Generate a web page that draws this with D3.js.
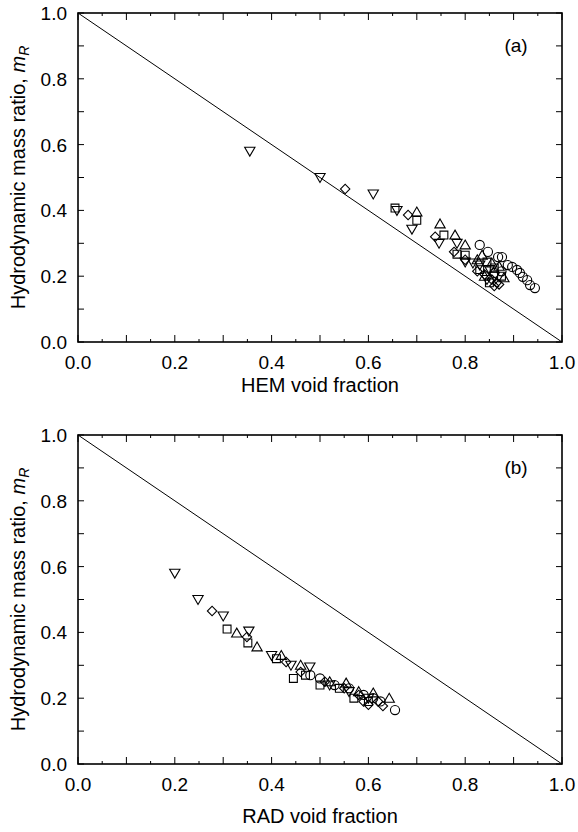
<!DOCTYPE html>
<html>
<head>
<meta charset="utf-8">
<script src="https://cdn.jsdelivr.net/npm/d3@7"></script>
<style>
  body { margin: 0; background: #fff; }
  text { font-family: "Liberation Sans", Arial, sans-serif; }
</style>
</head>
<body>
<svg id="chart" width="578" height="832"></svg>
<script>
// panel (a): HEM void fraction vs mR
var hemDown = [[0.355,0.58],[0.50,0.50],[0.61,0.45],[0.659,0.40],[0.69,0.343],[0.746,0.30],[0.783,0.30],[0.80,0.243],[0.816,0.24],[0.83,0.234],[0.85,0.22],[0.86,0.20],[0.845,0.19]];
var hemDiamond = [[0.552,0.465],[0.682,0.386],[0.738,0.32],[0.777,0.274],[0.80,0.25],[0.825,0.215],[0.84,0.205],[0.855,0.19],[0.865,0.18],[0.87,0.175],[0.86,0.17]];
var hemSquare = [[0.655,0.407],[0.70,0.37],[0.756,0.325],[0.783,0.267],[0.80,0.264],[0.845,0.243],[0.83,0.22],[0.86,0.225],[0.875,0.2],[0.85,0.18]];
var hemUp = [[0.70,0.395],[0.748,0.359],[0.779,0.325],[0.80,0.295],[0.835,0.264],[0.825,0.25],[0.855,0.24],[0.87,0.23],[0.84,0.2],[0.88,0.195]];
var hemCircle = [[0.83,0.295],[0.847,0.274],[0.868,0.258],[0.876,0.258],[0.888,0.234],[0.897,0.228],[0.907,0.219],[0.913,0.21],[0.919,0.198],[0.928,0.188],[0.934,0.173],[0.944,0.164],[0.86,0.21],[0.875,0.215]];

// panel (b): RAD void fraction vs mR
var radDown = [[0.20,0.58],[0.248,0.50],[0.30,0.45],[0.353,0.404],[0.40,0.33],[0.479,0.295],[0.44,0.30],[0.52,0.24],[0.56,0.22],[0.60,0.20]];
var radDiamond = [[0.277,0.465],[0.349,0.386],[0.43,0.31],[0.46,0.28],[0.51,0.25],[0.55,0.23],[0.58,0.21],[0.59,0.19],[0.60,0.18],[0.63,0.176],[0.62,0.19]];
var radSquare = [[0.308,0.41],[0.351,0.368],[0.41,0.32],[0.445,0.26],[0.47,0.27],[0.50,0.24],[0.54,0.23],[0.57,0.20],[0.60,0.19]];
var radUp = [[0.328,0.398],[0.37,0.356],[0.42,0.33],[0.46,0.30],[0.554,0.246],[0.58,0.22],[0.61,0.216],[0.643,0.20],[0.52,0.25]];
var radCircle = [[0.48,0.27],[0.50,0.26],[0.53,0.24],[0.56,0.23],[0.59,0.21],[0.61,0.20],[0.625,0.19],[0.655,0.164]];

var xTickLabels = [0, 0.2, 0.4, 0.6, 0.8, 1.0];
var yTickLabels = [0, 0.2, 0.4, 0.6, 0.8, 1.0];
var diagonal = [[0, 1], [1, 0]];

var svg = d3.select("#chart");

var panels = [
  { top: 13, bottom: 342, tag: "(a)", title: "HEM void fraction", titleGap: 50,
    series: { down: hemDown, diamond: hemDiamond, square: hemSquare, up: hemUp, circle: hemCircle } },
  { top: 435, bottom: 764, tag: "(b)", title: "RAD void fraction", titleGap: 59,
    series: { down: radDown, diamond: radDiamond, square: radSquare, up: radUp, circle: radCircle } }
];

var left = 78, right = 562;

var shapes = {
  circle: d3.symbol().type(d3.symbolCircle).size(66)(),
  square: d3.symbol().type(d3.symbolSquare).size(62)(),
  diamond: d3.symbol().type(d3.symbolSquare).size(44)(),
  up: d3.symbol().type(d3.symbolTriangle).size(46)(),
  down: d3.symbol().type(d3.symbolTriangle).size(46)()
};
var rotate = { circle: 0, square: 0, diamond: 45, up: 0, down: 180 };

panels.forEach(function(p) {
  var x = d3.scaleLinear().domain([0, 1]).range([left, right]);
  var y = d3.scaleLinear().domain([0, 1]).range([p.bottom, p.top]);
  var g = svg.append("g");

  // ticks, all pointing inward
  var xt = d3.range(0, 1.0001, 0.05);
  var yt = d3.range(0, 1.0001, 0.1);
  xt.forEach(function(v, i) {
    var len = (i % 2 === 0) ? 7 : 3;
    g.append("line").attr("x1", x(v)).attr("x2", x(v)).attr("y1", p.bottom).attr("y2", p.bottom - len).attr("stroke", "#000");
    g.append("line").attr("x1", x(v)).attr("x2", x(v)).attr("y1", p.top).attr("y2", p.top + len).attr("stroke", "#000");
  });
  yt.forEach(function(v) {
    g.append("line").attr("x1", left).attr("x2", left + 6).attr("y1", y(v)).attr("y2", y(v)).attr("stroke", "#000");
    g.append("line").attr("x1", right).attr("x2", right - 6).attr("y1", y(v)).attr("y2", y(v)).attr("stroke", "#000");
  });

  g.append("rect")
    .attr("x", left).attr("y", p.top)
    .attr("width", right - left).attr("height", p.bottom - p.top)
    .attr("fill", "none").attr("stroke", "#000").attr("stroke-width", 1.6);

  g.selectAll(".xl").data(xTickLabels).enter().append("text")
    .attr("x", function(d) { return x(d); })
    .attr("y", p.bottom + 27)
    .attr("text-anchor", "middle")
    .attr("font-size", 19)
    .text(function(d) { return d3.format(".1f")(d); });

  g.selectAll(".yl").data(yTickLabels).enter().append("text")
    .attr("x", 67)
    .attr("y", function(d) { return y(d) + 7; })
    .attr("text-anchor", "end")
    .attr("font-size", 19)
    .text(function(d) { return d3.format(".1f")(d); });

  g.append("text")
    .attr("x", (left + right) / 2).attr("y", p.bottom + p.titleGap)
    .attr("text-anchor", "middle").attr("font-size", 20)
    .text(p.title);

  var yt2 = g.append("text")
    .attr("transform", "translate(25," + ((p.top + p.bottom) / 2) + ") rotate(-90)")
    .attr("text-anchor", "middle").attr("font-size", 20);
  yt2.append("tspan").text("Hydrodynamic mass ratio, ");
  yt2.append("tspan").attr("font-style", "italic").text("m");
  yt2.append("tspan").attr("font-style", "italic").attr("font-size", 14).attr("dy", 4).text("R");

  g.append("text")
    .attr("x", 516).attr("y", p.top + 39)
    .attr("text-anchor", "middle").attr("font-size", 19)
    .text(p.tag);

  g.append("path")
    .datum(diagonal)
    .attr("d", d3.line().x(function(d) { return x(d[0]); }).y(function(d) { return y(d[1]); }))
    .attr("stroke", "#000").attr("fill", "none").attr("stroke-width", 1);

  Object.keys(p.series).forEach(function(k) {
    g.selectAll(".m-" + k).data(p.series[k]).enter().append("path")
      .attr("d", shapes[k])
      .attr("transform", function(d) {
        var dy = k === "up" ? 1 : (k === "down" ? -1 : 0);
        return "translate(" + x(d[0]) + "," + (y(d[1]) + dy) + ") rotate(" + rotate[k] + ")";
      })
      .attr("fill", "none").attr("stroke", "#000").attr("stroke-width", 1.1);
  });
});
</script>
</body>
</html>
